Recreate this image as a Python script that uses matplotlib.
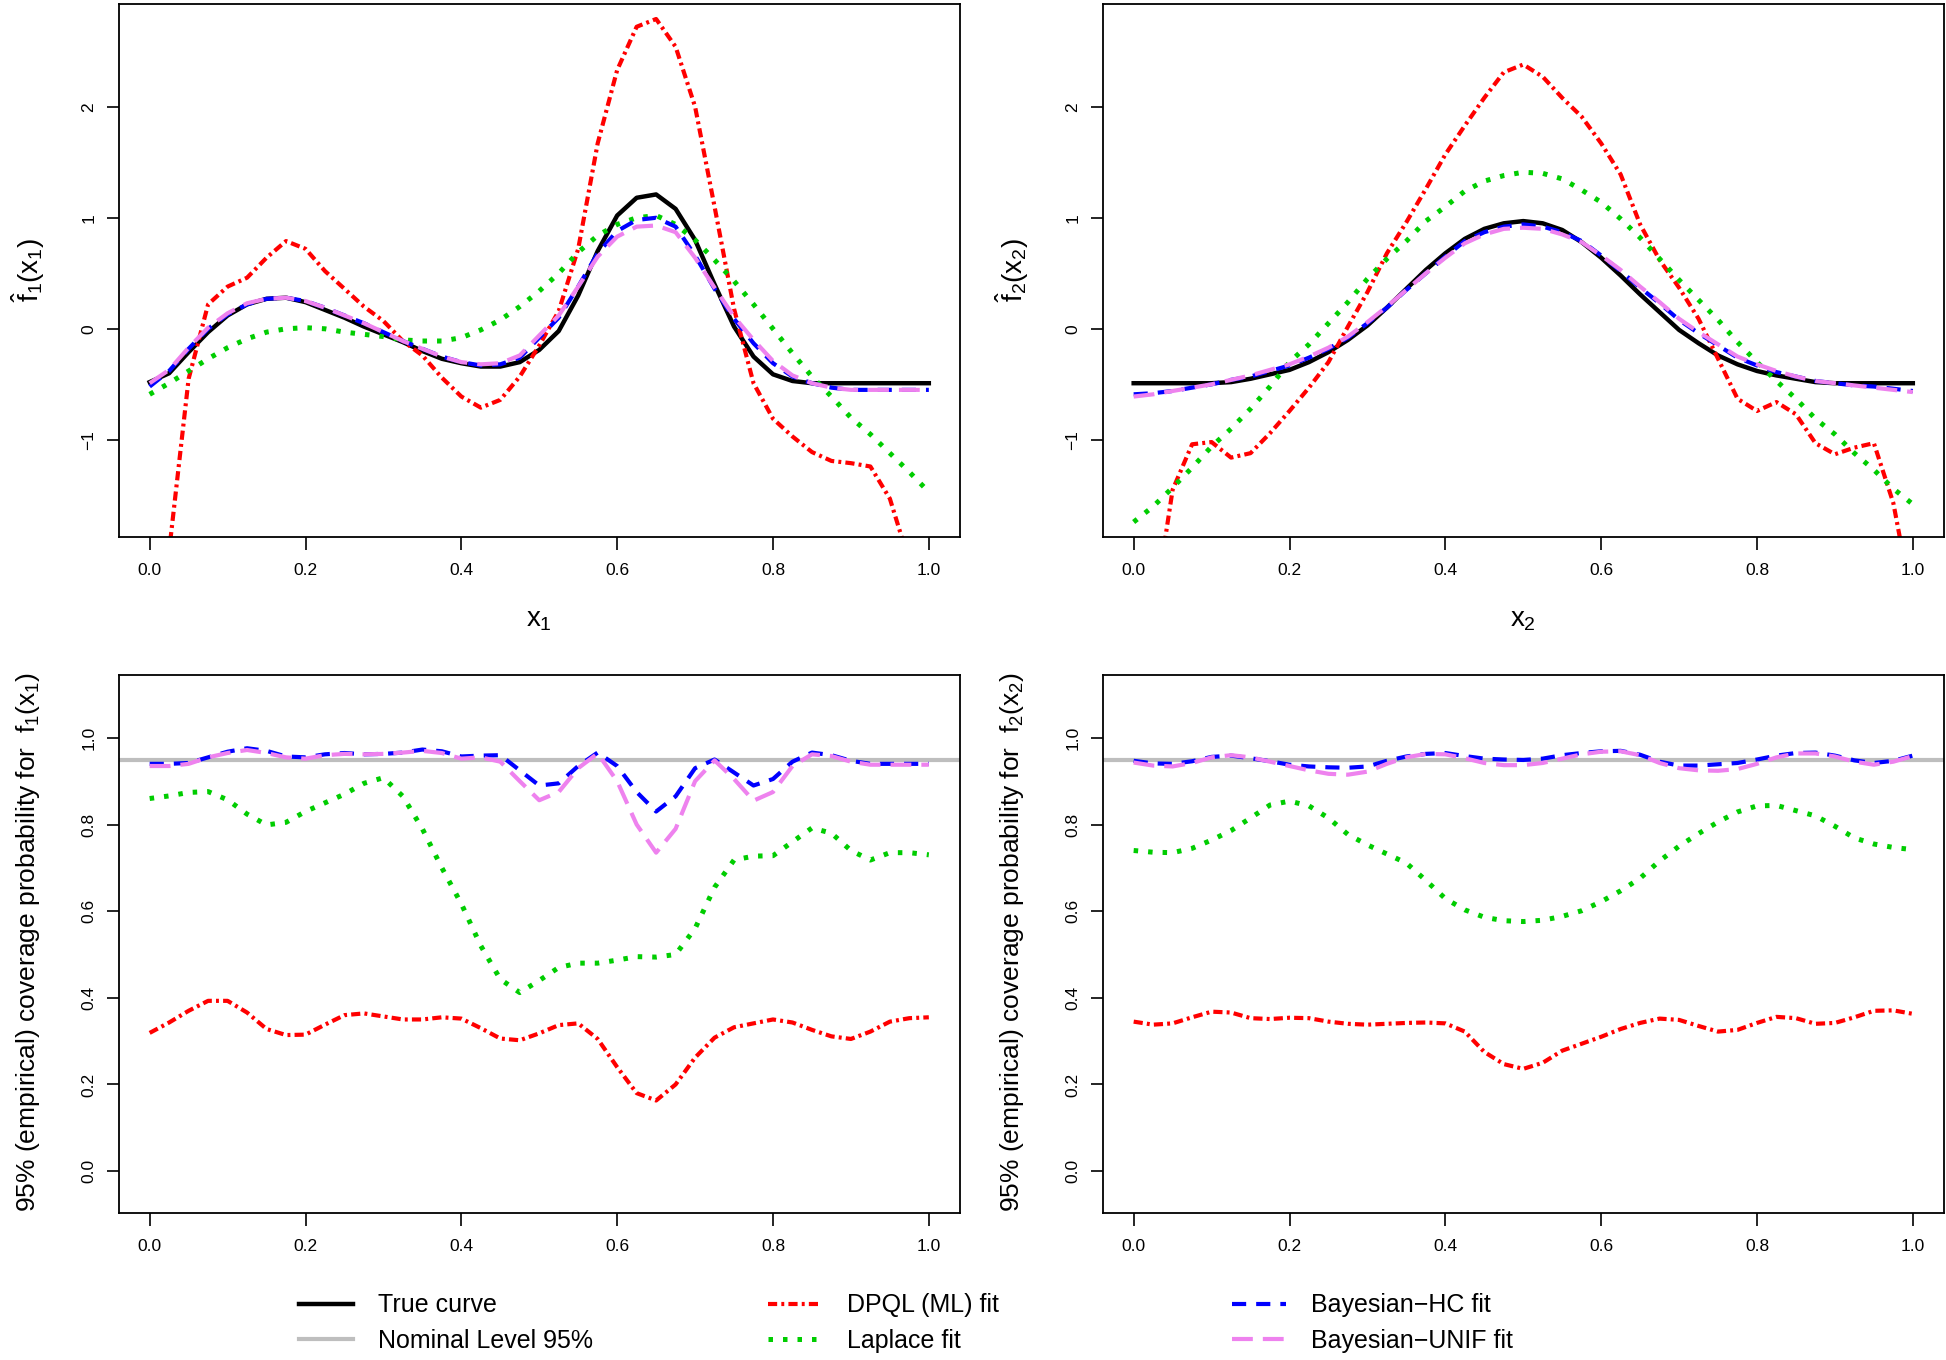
import matplotlib
matplotlib.use('Agg')
import matplotlib.pyplot as plt
from matplotlib.lines import Line2D

plt.rcParams['font.family'] = ['Liberation Sans', 'DejaVu Sans']
plt.rcParams['mathtext.fontset'] = 'custom'
plt.rcParams['mathtext.rm'] = 'Liberation Sans'
plt.rcParams['mathtext.it'] = 'Liberation Sans'
plt.rcParams['mathtext.bf'] = 'Liberation Sans:bold'

# common evaluation grid (0, 0.025, ..., 1)
x_grid = [i / 40 for i in range(41)]

# ---- top-left: estimates of f1 ----
true_f1 = [-0.48, -0.40, -0.21, -0.03, 0.12, 0.22, 0.27, 0.28, 0.24, 0.17,
           0.10, 0.02, -0.05, -0.12, -0.20, -0.27, -0.31, -0.34, -0.34, -0.30,
           -0.19, -0.02, 0.30, 0.70, 1.02, 1.18, 1.21, 1.08, 0.80, 0.40,
           0.02, -0.25, -0.41, -0.47, -0.49, -0.49, -0.49, -0.49, -0.49, -0.49, -0.49]
dpql_f1 = [-3.00, -2.00, -0.45, 0.22, 0.38, 0.46, 0.64, 0.79, 0.72, 0.52,
           0.36, 0.20, 0.07, -0.11, -0.24, -0.44, -0.61, -0.71, -0.64, -0.43,
           -0.15, 0.16, 0.72, 1.67, 2.33, 2.72, 2.79, 2.54, 2.00, 1.10,
           0.18, -0.49, -0.81, -0.97, -1.11, -1.19, -1.21, -1.24, -1.53, -2.10, -2.80]
laplace_f1 = [-0.59, -0.49, -0.38, -0.27, -0.17, -0.09, -0.03, 0.00, 0.01, 0.00,
              -0.03, -0.05, -0.07, -0.10, -0.11, -0.11, -0.08, -0.01, 0.08, 0.20,
              0.34, 0.50, 0.69, 0.84, 0.94, 1.00, 1.02, 0.94, 0.80, 0.62,
              0.43, 0.22, 0.00, -0.22, -0.43, -0.61, -0.80, -0.95, -1.12, -1.29, -1.47]
hc_f1 = [-0.52, -0.38, -0.18, 0.00, 0.13, 0.22, 0.27, 0.28, 0.25, 0.19,
         0.12, 0.05, -0.03, -0.11, -0.18, -0.25, -0.30, -0.33, -0.32, -0.26,
         -0.08, 0.10, 0.38, 0.68, 0.88, 0.98, 1.00, 0.92, 0.66, 0.36,
         0.09, -0.13, -0.31, -0.43, -0.49, -0.53, -0.55, -0.55, -0.55, -0.55, -0.55]
unif_f1 = [-0.49, -0.37, -0.17, 0.01, 0.14, 0.23, 0.27, 0.28, 0.25, 0.19,
           0.12, 0.05, -0.03, -0.11, -0.18, -0.25, -0.30, -0.32, -0.31, -0.24,
           -0.06, 0.12, 0.38, 0.65, 0.83, 0.92, 0.93, 0.87, 0.64, 0.37,
           0.11, -0.10, -0.29, -0.42, -0.49, -0.53, -0.55, -0.55, -0.55, -0.55, -0.55]

# ---- top-right: estimates of f2 ----
true_f2 = [-0.49, -0.49, -0.49, -0.49, -0.49, -0.48, -0.45, -0.41, -0.37, -0.30,
           -0.21, -0.10, 0.03, 0.19, 0.36, 0.53, 0.68, 0.81, 0.90, 0.95,
           0.97, 0.95, 0.89, 0.78, 0.64, 0.48, 0.31, 0.15, -0.01, -0.13,
           -0.24, -0.32, -0.38, -0.42, -0.45, -0.48, -0.49, -0.49, -0.49, -0.49, -0.49]
dpql_f2 = [-3.20, -2.60, -1.45, -1.04, -1.02, -1.16, -1.12, -0.94, -0.74, -0.53,
           -0.30, 0.02, 0.33, 0.68, 0.96, 1.26, 1.57, 1.83, 2.08, 2.31,
           2.38, 2.27, 2.08, 1.91, 1.67, 1.39, 0.94, 0.62, 0.37, 0.09,
           -0.27, -0.63, -0.74, -0.66, -0.77, -1.03, -1.13, -1.07, -1.03, -1.57, -2.50]
laplace_f2 = [-1.74, -1.60, -1.43, -1.25, -1.06, -0.90, -0.72, -0.52, -0.30, -0.14,
              0.05, 0.24, 0.45, 0.63, 0.79, 0.97, 1.10, 1.24, 1.33, 1.38,
              1.41, 1.40, 1.35, 1.25, 1.14, 0.99, 0.82, 0.63, 0.44, 0.26,
              0.08, -0.12, -0.30, -0.47, -0.63, -0.81, -0.95, -1.12, -1.27, -1.44, -1.58]
hc_f2 = [-0.59, -0.58, -0.56, -0.53, -0.50, -0.46, -0.43, -0.38, -0.33, -0.26,
         -0.18, -0.08, 0.05, 0.19, 0.35, 0.50, 0.65, 0.79, 0.87, 0.92,
         0.94, 0.92, 0.87, 0.79, 0.66, 0.52, 0.37, 0.23, 0.08, -0.04,
         -0.15, -0.26, -0.33, -0.39, -0.43, -0.47, -0.49, -0.51, -0.52, -0.54, -0.56]
unif_f2 = [-0.61, -0.59, -0.56, -0.53, -0.50, -0.46, -0.42, -0.37, -0.32, -0.25,
           -0.17, -0.07, 0.06, 0.20, 0.35, 0.50, 0.64, 0.77, 0.85, 0.90,
           0.91, 0.90, 0.85, 0.78, 0.66, 0.53, 0.38, 0.24, 0.09, -0.03,
           -0.14, -0.25, -0.32, -0.38, -0.43, -0.47, -0.49, -0.51, -0.53, -0.55, -0.57]

# ---- bottom-left: coverage for f1 ----
cov_dpql_f1 = [0.319, 0.343, 0.370, 0.393, 0.393, 0.366, 0.328, 0.314, 0.315, 0.338,
               0.360, 0.364, 0.357, 0.350, 0.350, 0.355, 0.352, 0.330, 0.306, 0.302,
               0.318, 0.337, 0.341, 0.305, 0.240, 0.180, 0.163, 0.200, 0.262, 0.308,
               0.332, 0.341, 0.350, 0.343, 0.326, 0.311, 0.305, 0.322, 0.345, 0.353, 0.355]
cov_laplace_f1 = [0.860, 0.866, 0.874, 0.876, 0.857, 0.824, 0.799, 0.805, 0.830, 0.850,
                  0.870, 0.895, 0.908, 0.865, 0.790, 0.700, 0.617, 0.520, 0.443, 0.412,
                  0.440, 0.470, 0.480, 0.480, 0.487, 0.495, 0.494, 0.500, 0.560, 0.655,
                  0.718, 0.727, 0.728, 0.760, 0.792, 0.780, 0.740, 0.718, 0.735, 0.735, 0.730]
cov_hc_f1 = [0.940, 0.940, 0.942, 0.955, 0.968, 0.976, 0.970, 0.957, 0.955, 0.962,
             0.965, 0.962, 0.963, 0.966, 0.973, 0.969, 0.957, 0.959, 0.960, 0.925,
             0.890, 0.895, 0.935, 0.966, 0.935, 0.875, 0.830, 0.865, 0.930, 0.950,
             0.920, 0.890, 0.905, 0.945, 0.966, 0.960, 0.947, 0.940, 0.940, 0.940, 0.940]
cov_unif_f1 = [0.935, 0.935, 0.940, 0.955, 0.965, 0.972, 0.965, 0.955, 0.952, 0.960,
               0.963, 0.962, 0.963, 0.966, 0.970, 0.965, 0.952, 0.955, 0.945, 0.900,
               0.856, 0.875, 0.930, 0.964, 0.900, 0.800, 0.735, 0.790, 0.900, 0.948,
               0.905, 0.855, 0.875, 0.935, 0.962, 0.958, 0.945, 0.938, 0.938, 0.938, 0.938]

# ---- bottom-right: coverage for f2 ----
cov_dpql_f2 = [0.345, 0.338, 0.341, 0.355, 0.368, 0.366, 0.353, 0.351, 0.354, 0.353,
               0.345, 0.340, 0.338, 0.340, 0.342, 0.343, 0.341, 0.322, 0.275, 0.247,
               0.236, 0.250, 0.278, 0.294, 0.310, 0.328, 0.342, 0.352, 0.349, 0.335,
               0.322, 0.326, 0.342, 0.356, 0.353, 0.340, 0.342, 0.355, 0.370, 0.371, 0.363]
cov_laplace_f2 = [0.740, 0.736, 0.735, 0.745, 0.764, 0.786, 0.815, 0.845, 0.854, 0.843,
                  0.815, 0.777, 0.753, 0.732, 0.711, 0.671, 0.629, 0.603, 0.586, 0.578,
                  0.576, 0.579, 0.588, 0.601, 0.622, 0.647, 0.676, 0.716, 0.750, 0.779,
                  0.806, 0.829, 0.843, 0.844, 0.832, 0.820, 0.796, 0.769, 0.755, 0.747, 0.742]
cov_hc_f2 = [0.947, 0.941, 0.940, 0.946, 0.956, 0.959, 0.953, 0.946, 0.938, 0.934,
             0.932, 0.931, 0.934, 0.947, 0.957, 0.963, 0.965, 0.958, 0.952, 0.950,
             0.949, 0.952, 0.960, 0.965, 0.969, 0.970, 0.961, 0.945, 0.936, 0.936,
             0.939, 0.942, 0.950, 0.959, 0.965, 0.966, 0.959, 0.948, 0.942, 0.947, 0.959]
cov_unif_f2 = [0.943, 0.936, 0.934, 0.942, 0.955, 0.960, 0.955, 0.945, 0.935, 0.925,
               0.917, 0.915, 0.922, 0.940, 0.955, 0.963, 0.962, 0.953, 0.942, 0.937,
               0.937, 0.942, 0.952, 0.962, 0.968, 0.969, 0.960, 0.942, 0.930, 0.925,
               0.924, 0.928, 0.940, 0.955, 0.964, 0.964, 0.957, 0.945, 0.938, 0.945, 0.958]

nominal_level = 0.95

STYLES = {
    'true': dict(color='black', lw=3.2, ls='-'),
    'nominal': dict(color='#BEBEBE', lw=3.0, ls='-'),
    'dpql': dict(color='#FF0000', lw=3.0, dashes=(2.2, 1.0, 0.7, 1.0)),
    'laplace': dict(color='#00CD00', lw=3.6, dashes=(0.9, 2.0)),
    'hc': dict(color='#0000FF', lw=3.0, dashes=(3.4, 2.4)),
    'unif': dict(color='#EE82EE', lw=3.0, dashes=(5.0, 2.4)),
}

fig = plt.figure(figsize=(19.46, 13.6), dpi=100)
W, H = 1946.0, 1360.0


def make_axes(left, right, top, bottom):
    return fig.add_axes([left / W, 1 - bottom / H, (right - left) / W, (bottom - top) / H])


def style_axes(ax, ylim, yticks, ylabels):
    ax.set_xlim(-0.04, 1.04)
    ax.set_ylim(*ylim)
    ax.set_xticks([0, 0.2, 0.4, 0.6, 0.8, 1.0])
    ax.set_xticklabels(['0.0', '0.2', '0.4', '0.6', '0.8', '1.0'])
    ax.set_yticks(yticks)
    ax.set_yticklabels(ylabels, rotation=90, va='center')
    ax.tick_params(axis='both', length=9, width=1.2, labelsize=12.5)
    ax.tick_params(axis='x', pad=10)
    ax.tick_params(axis='y', pad=7)
    for sp in ax.spines.values():
        sp.set_linewidth(1.3)


ax_tl = make_axes(118.5, 960, 4, 537)
ax_tr = make_axes(1102.5, 1944, 4, 537)
ax_bl = make_axes(118.5, 960, 674.6, 1212.7)
ax_br = make_axes(1102.5, 1944, 674.6, 1212.7)

top_panels = [
    (ax_tl, [true_f1, dpql_f1, laplace_f1, hc_f1, unif_f1]),
    (ax_tr, [true_f2, dpql_f2, laplace_f2, hc_f2, unif_f2]),
]
for ax, series in top_panels:
    for key, vals in zip(['true', 'dpql', 'laplace', 'hc', 'unif'], series):
        ax.plot(x_grid, vals, **STYLES[key])

bottom_panels = [
    (ax_bl, [cov_dpql_f1, cov_laplace_f1, cov_hc_f1, cov_unif_f1]),
    (ax_br, [cov_dpql_f2, cov_laplace_f2, cov_hc_f2, cov_unif_f2]),
]
for ax, series in bottom_panels:
    ax.axhline(nominal_level, **STYLES['nominal'])
    for key, vals in zip(['dpql', 'laplace', 'hc', 'unif'], series):
        ax.plot(x_grid, vals, **STYLES[key])

for ax in (ax_tl, ax_tr):
    style_axes(ax, (-1.875, 2.925), [-1, 0, 1, 2], ['\u22121', '0', '1', '2'])
for ax in (ax_bl, ax_br):
    style_axes(ax, (-0.096, 1.146), [0, 0.2, 0.4, 0.6, 0.8, 1.0],
               ['0.0', '0.2', '0.4', '0.6', '0.8', '1.0'])

# axis titles
fig.text(28.5 / W, 1 - 270 / H, r'$\hat{f}_1(x_1)$', rotation=90, ha='center', va='center', fontsize=20)
fig.text(1012 / W, 1 - 270 / H, r'$\hat{f}_2(x_2)$', rotation=90, ha='center', va='center', fontsize=20)
fig.text(539 / W, 1 - 620 / H, r'$x_1$', ha='center', va='center', fontsize=20)
fig.text(1523 / W, 1 - 620 / H, r'$x_2$', ha='center', va='center', fontsize=20)
fig.text(28.5 / W, 1 - 942 / H, '95% (empirical) coverage probability for  $f_1(x_1)$',
         rotation=90, ha='center', va='center', fontsize=19)
fig.text(1012 / W, 1 - 942 / H, '95% (empirical) coverage probability for  $f_2(x_2)$',
         rotation=90, ha='center', va='center', fontsize=19)

# legend in three columns of two rows
legend_cols = [
    (299, [('true', 'True curve'), ('nominal', 'Nominal Level 95%')]),
    (768, [('dpql', 'DPQL (ML) fit'), ('laplace', 'Laplace fit')]),
    (1232, [('hc', 'Bayesian\u2212HC fit'), ('unif', 'Bayesian\u2212UNIF fit')]),
]
for x0, entries in legend_cols:
    handles = [Line2D([0], [0], **STYLES[k]) for k, _ in entries]
    labels = [lab for _, lab in entries]
    fig.legend(handles, labels, loc='center left', bbox_to_anchor=(x0 / W, 1 - 1323 / H),
               frameon=False, fontsize=18, handlelength=2.15, handletextpad=1.0,
               labelspacing=0.45, borderpad=0, borderaxespad=0)

fig.savefig('out.png', dpi=100)
